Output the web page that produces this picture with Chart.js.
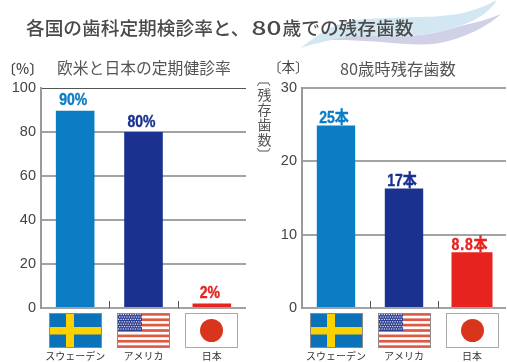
<!DOCTYPE html>
<html lang="ja">
<head>
<meta charset="utf-8">
<script src="https://cdn.jsdelivr.net/npm/chart.js@4"></script>
<style>
html,body{margin:0;padding:0;background:#fff;width:507px;height:362px;overflow:hidden}
#stage{position:relative;width:507px;height:362px;overflow:hidden;font-family:"Noto Sans CJK JP",sans-serif}
.t{position:absolute;white-space:nowrap;line-height:1;color:#555}
canvas{position:absolute;top:0}
svg{position:absolute;left:0;top:0}
</style>
</head>
<body>
<div id="stage">
<svg width="507" height="60">
<path d="M300 48C315 38 325 28 345 22C375 15 430 20 463 13C478 9 488 5 497 0C490 12 475 22 453 28C430 36 400 37 370 36C350 36 335 38 300 48Z" fill="#d3e7f2"/>
<path d="M330 40C345 36 360 35 375 36C405 37 430 36 453 28C472 23 488 20 501 14C488 26 465 38 440 43C415 47 390 42 365 41C350 40 340 40 330 40Z" fill="#d0d1e7"/>
</svg>
<canvas id="c1" width="253" height="362" style="left:0;width:253px;height:362px"></canvas>
<canvas id="c2" width="254" height="362" style="left:253px;width:254px;height:362px"></canvas>
<div class="t" style="left:26px;top:18px;font-size:18.7px;font-weight:500;color:#4a4a4a">各国の歯科定期検診率と、<span style="display:inline-block;width:33px;text-align:center;transform:scaleX(1.4)">80</span>歳での残存歯数</div>
<div class="t" style="left:57px;top:60px;font-size:15.8px">欧米と日本の定期健診率</div>
<div class="t" style="left:340px;top:60px;font-size:16.3px">80歳時残存歯数</div>
<div class="t" style="left:2px;top:61px;font-size:14px;font-weight:500;color:#444">〔%〕</div>
<div class="t" style="left:268px;top:60px;font-size:13.5px;color:#444">〔本〕</div>
<div class="t" style="left:257px;top:78px;font-size:14px;line-height:15px;width:15px;text-align:center;white-space:normal;color:#555">
<div style="transform:translateY(-3px) rotate(90deg);height:9px;line-height:9px">〔</div>残存歯数<div style="transform:translateY(3px) rotate(90deg);height:9px;line-height:9px">〕</div></div>
</div>
<script>
const countries = ["スウェーデン", "アメリカ", "日本"];
const checkupRates = [89.7, 80, 2];
const checkupLabels = ["90%", "80%", "2%"];
const checkupTicks = [0, 20, 40, 60, 80, 100];
const teethCounts = [24.9, 16.3, 7.6];
const teethLabels = ["25本", "17本", "8.8本"];
const teethTicks = [0, 10, 20, 30];
const barColors = ["#0a7dc4", "#1a318f", "#e6231f"];

function drawFlag(ctx, kind, x, y, w, h) {
  ctx.save();
  if (kind === 0) {
    ctx.fillStyle = "#0a72b8"; ctx.fillRect(x, y, w, h);
    ctx.fillStyle = "#fdd000";
    ctx.fillRect(x + 17, y, 8, h);
    ctx.fillRect(x, y + 14, w, 7.5);
  } else if (kind === 1) {
    ctx.fillStyle = "#fff"; ctx.fillRect(x, y, w, h);
    ctx.fillStyle = "#dc5a46";
    for (let i = 0; i < 7; i++) ctx.fillRect(x, y + i * 2 * h / 13, w, h / 13);
    ctx.fillStyle = "#2f3f92"; ctx.fillRect(x, y, 25, 18);
    ctx.fillStyle = "#e4e6f4";
    for (let r = 0; r < 7; r++) for (let c = 0; c < 10; c++) {
      ctx.fillRect(x + 1 + c * 2.4 + (r % 2) * 1.1, y + 1 + r * 2.4, 1.2, 1.2);
    }
  } else {
    ctx.fillStyle = "#fff"; ctx.fillRect(x, y, w, h);
    ctx.fillStyle = "#d9341c";
    ctx.beginPath(); ctx.arc(x + w / 2, y + h / 2, 11.5, 0, 7); ctx.fill();
  }
  ctx.strokeStyle = kind === 2 ? "#aaa" : "#8a8a8a";
  ctx.lineWidth = 1;
  ctx.strokeRect(x + .5, y + .5, w - 1, h - 1);
  ctx.restore();
}

function extras(values, labels, gap, spacing) {
  return {
    id: "extras",
    afterDraw(chart) {
      const ctx = chart.ctx, xs = chart.scales.x, ys = chart.scales.y;
      ctx.save();
      ctx.strokeStyle = "#555"; ctx.lineWidth = 1;
      for (let i = 0; i < countries.length - 1; i++) {
        const b = Math.round((xs.getPixelForValue(i) + xs.getPixelForValue(i + 1)) / 2) + .5;
        ctx.beginPath(); ctx.moveTo(b, ys.bottom - 7); ctx.lineTo(b, ys.bottom); ctx.stroke();
      }
      countries.forEach((_, i) => {
        drawFlag(ctx, i, Math.round(xs.getPixelForValue(i) - 26.5), 313, 53, 35);
      });
      ctx.font = 'bold 16.5px "Liberation Sans","Noto Sans CJK JP",sans-serif';
      ctx.textAlign = "center"; ctx.textBaseline = "alphabetic";
      labels.forEach((t, i) => {
        ctx.save();
        ctx.fillStyle = barColors[i];
        ctx.strokeStyle = barColors[i];
        ctx.lineWidth = .4;
        ctx.letterSpacing = spacing[i] + "px";
        ctx.translate(xs.getPixelForValue(i) - 2, ys.getPixelForValue(values[i]) - gap);
        ctx.scale(.85, 1);
        ctx.fillText(t, 0, 0);
        ctx.strokeText(t, 0, 0);
        ctx.restore();
      });
      ctx.restore();
    }
  };
}

function yScale(ticks, topColor, topWidth, pad, width) {
  const max = ticks[ticks.length - 1];
  return {
    min: 0, max,
    afterBuildTicks(s) { s.ticks = ticks.map(v => ({ value: v })); },
    afterFit(s) { s.width = width; s.paddingTop = 0; s.paddingBottom = 0; },
    border: { color: "#999", width: 2 },
    grid: {
      drawTicks: false,
      color: c => c.tick.value === max ? topColor : "#a3a3a3",
      lineWidth: c => c.tick.value === max ? topWidth : 2
    },
    ticks: {
      padding: pad, color: "#444",
      font: { family: '"Liberation Sans",sans-serif', size: 14.5 }
    }
  };
}
function xScale(stacked) {
  return {
    stacked,
    afterFit(s) { s.height = 54; s.paddingLeft = 0; s.paddingRight = 0; },
    border: { display: false },
    grid: { display: false, drawTicks: false },
    ticks: {
      padding: 42, color: "#333", maxRotation: 0, autoSkip: false,
      font: { family: '"Noto Sans CJK JP",sans-serif', size: 10 }
    }
  };
}
Chart.defaults.animation = false;
Chart.defaults.responsive = false;

new Chart(document.getElementById("c1"), {
  type: "bar",
  data: { labels: countries, datasets: [{ data: checkupRates, backgroundColor: barColors, barPercentage: .565, categoryPercentage: 1 }] },
  options: {
    layout: { padding: { top: 88, right: 7, left: 0, bottom: 0 } },
    plugins: { legend: { display: false }, tooltip: { enabled: false } },
    scales: { x: xScale(false), y: yScale(checkupTicks, "#555", 1, 5, 41) }
  },
  plugins: [extras(checkupRates, checkupLabels, 5.5, [0, 0, 0])]
});

new Chart(document.getElementById("c2"), {
  type: "bar",
  data: { labels: countries, datasets: [
    { data: teethCounts.map((v, i) => i < 2 ? v : null), backgroundColor: barColors, barPercentage: .565, categoryPercentage: 1, stack: "a" },
    { data: teethCounts.map((v, i) => i === 2 ? v : null), backgroundColor: barColors, barPercentage: .603, categoryPercentage: 1, stack: "a" }
  ] },
  options: {
    layout: { padding: { top: 88, right: 1, left: 0, bottom: 0 } },
    plugins: { legend: { display: false }, tooltip: { enabled: false } },
    scales: { x: xScale(true), y: Object.assign(yScale(teethTicks, "#a3a3a3", 2, 5, 49), { stacked: false }) }
  },
  plugins: [extras(teethCounts, teethLabels, 2.5, [0, 0, 1])]
});
</script>
</body>
</html>
